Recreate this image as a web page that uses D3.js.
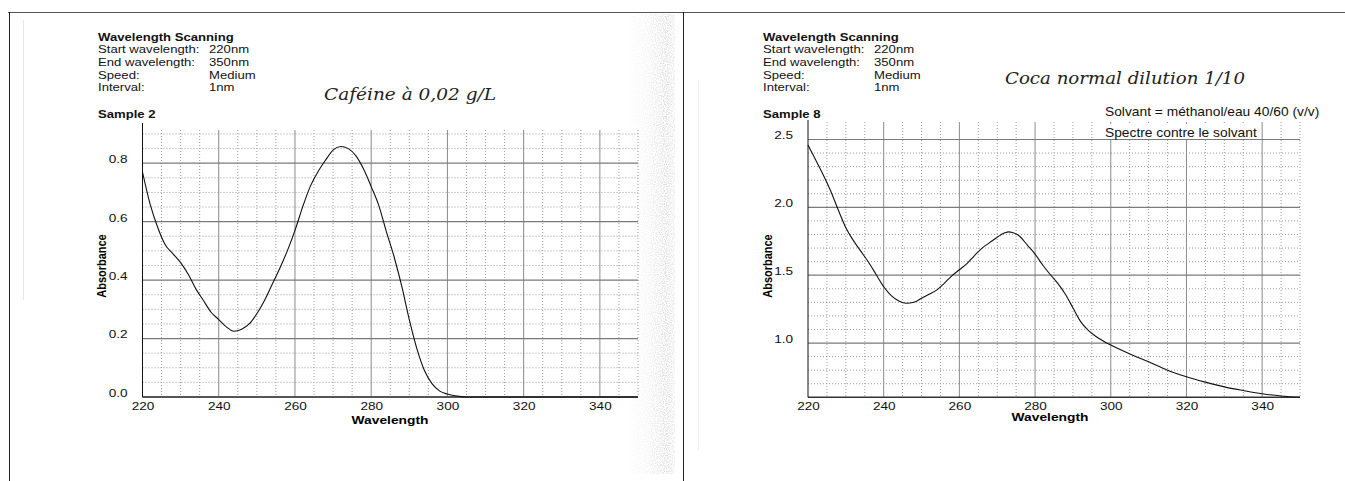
<!DOCTYPE html>
<html>
<head>
<meta charset="utf-8">
<script src="https://cdn.jsdelivr.net/npm/d3@7"></script>
<style>
  body { margin: 0; background: #fff; }
  svg { display: block; font-family: "Liberation Sans", Arial, sans-serif; }
</style>
</head>
<body>
<div id="chart"></div>
<script>
// caffeine 0,02 g/L (sample 2)
var caffeineWl  = [220,222,224,226,228,230,232,234,236,238,240,242,244,246,248,250,252,254,256,258,260,262,264,266,268,270,272,274,276,278,280,282,284,286,288,290,292,294,296,298,300,302,305,310,320,330,340,350];
var caffeineAbs = [0.77,0.66,0.58,0.52,0.49,0.46,0.42,0.37,0.33,0.29,0.265,0.24,0.225,0.232,0.25,0.285,0.33,0.385,0.44,0.50,0.57,0.65,0.72,0.77,0.81,0.845,0.857,0.85,0.825,0.78,0.72,0.655,0.565,0.48,0.38,0.265,0.165,0.09,0.045,0.02,0.01,0.004,0.0,0.0,0.0,0.0,0.0,0.0];

// coca normal, dilution 1/10 (sample 8)
var cocaWl  = [220,222,224,226,228,230,232,234,236,238,240,242,244,246,248,250,252,254,256,258,260,262,264,266,268,270,272,273,274,276,278,280,282,284,286,288,290,292,294,296,298,300,305,310,315,320,325,330,335,340,345,350];
var cocaAbs = [2.46,2.35,2.24,2.12,1.98,1.85,1.755,1.675,1.595,1.505,1.415,1.35,1.31,1.293,1.30,1.33,1.36,1.39,1.44,1.495,1.54,1.585,1.645,1.70,1.74,1.78,1.812,1.819,1.815,1.785,1.72,1.655,1.575,1.505,1.44,1.36,1.26,1.16,1.095,1.05,1.015,0.985,0.92,0.862,0.80,0.752,0.712,0.677,0.65,0.626,0.61,0.60];

var xTicks = [220,240,260,280,300,320,340];
var caffeineYTicks = [0.0,0.2,0.4,0.6,0.8];
var cocaYTicks = [1.0,1.5,2.0,2.5];

var headerLabels = ["Start wavelength:","End wavelength:","Speed:","Interval:"];
var headerValues = ["220nm","350nm","Medium","1nm"];

var width = 1345, height = 481;

var svg = d3.select("#chart").append("svg")
    .attr("width", width)
    .attr("height", height);

svg.append("rect").attr("width", width).attr("height", height).attr("fill", "#fff");

// the scan is a bit wider than tall: stretch text horizontally
function putText(g, x, y, str, size, sx, bold) {
  return g.append("text")
    .attr("transform", "translate(" + x + "," + y + ") scale(" + sx + ",1)")
    .text(str)
    .style("font-size", size + "px")
    .style("font-weight", bold ? "bold" : "normal")
    .style("fill", "#111");
}

// speckled scan noise on the right edge of the first sheet
var defs = svg.append("defs");
var filt = defs.append("filter").attr("id", "speckle").attr("x", 0).attr("y", 0).attr("width", 1).attr("height", 1);
filt.append("feTurbulence").attr("type", "fractalNoise").attr("baseFrequency", "0.9").attr("numOctaves", 1).attr("seed", 3);
filt.append("feColorMatrix").attr("type", "matrix")
  .attr("values", "0 0 0 0 0.45  0 0 0 0 0.45  0 0 0 0 0.45  0 0 0 -2.4 1.5");
var grad = defs.append("linearGradient").attr("id", "bandfade");
grad.append("stop").attr("offset", "0%").attr("stop-color", "#fff").attr("stop-opacity", 0);
grad.append("stop").attr("offset", "45%").attr("stop-color", "#fff").attr("stop-opacity", 0.35);
grad.append("stop").attr("offset", "85%").attr("stop-color", "#fff").attr("stop-opacity", 1);
grad.append("stop").attr("offset", "100%").attr("stop-color", "#fff").attr("stop-opacity", 0.5);
var mask = defs.append("mask").attr("id", "bandmask");
mask.append("rect").attr("x", 625).attr("y", 14).attr("width", 50).attr("height", 460).attr("fill", "url(#bandfade)");
svg.append("rect").attr("x", 625).attr("y", 14).attr("width", 50).attr("height", 460)
   .attr("filter", "url(#speckle)").attr("mask", "url(#bandmask)").attr("opacity", 0.55);

// page frame
svg.append("line").attr("x1", 8).attr("x2", width).attr("y1", 12.5).attr("y2", 12.5)
   .attr("stroke", "#555").attr("stroke-width", 1);
svg.append("line").attr("x1", 9.5).attr("x2", 9.5).attr("y1", 12).attr("y2", height)
   .attr("stroke", "#222").attr("stroke-width", 1);
svg.append("line").attr("x1", 683.5).attr("x2", 683.5).attr("y1", 12).attr("y2", height)
   .attr("stroke", "#222").attr("stroke-width", 1);
svg.append("line").attr("x1", 23.5).attr("x2", 23.5).attr("y1", 20).attr("y2", 300)
   .attr("stroke", "#e6e6e6").attr("stroke-width", 1);
svg.append("line").attr("x1", 698.5).attr("x2", 698.5).attr("y1", 80).attr("y2", 450)
   .attr("stroke", "#ececec").attr("stroke-width", 1);

function drawPanel(cfg) {
  var g = svg.append("g");
  var x = d3.scaleLinear().domain([220, 350]).range(cfg.xRange);
  var y = d3.scaleLinear().domain(cfg.yDomain).range(cfg.yRange);
  var top = cfg.plotTop;
  var y0 = y(cfg.yDomain[0]);

  // header
  var hx = cfg.headerX;
  putText(g, hx, 41, "Wavelength Scanning", 10.5, 1.25, true);
  headerLabels.forEach(function(t, i) {
    putText(g, hx, 53 + i * 12.8, t, 10.5, 1.25, false);
    putText(g, hx + 111, 53 + i * 12.8, headerValues[i], 10.5, 1.25, false);
  });
  putText(g, hx, 118, cfg.sample, 10.5, 1.25, true);

  g.append("text").attr("x", cfg.noteX).attr("y", cfg.noteY).text(cfg.note)
    .attr("textLength", cfg.noteLen).attr("lengthAdjust", "spacingAndGlyphs")
    .style("font-family", "'DejaVu Serif', serif").style("font-style", "italic")
    .style("font-size", "17px").style("fill", "#222");

  // minor grid
  d3.range(220, 351, 5).forEach(function(v) {
    if (v % 20 === 0) return;
    g.append("line").attr("x1", x(v)).attr("x2", x(v)).attr("y1", top).attr("y2", y0)
      .attr("stroke", "#9a9a9a").attr("stroke-dasharray", "1,2").attr("stroke-width", 1);
  });
  cfg.yMinor.forEach(function(v) {
    g.append("line").attr("x1", x(220)).attr("x2", x(350)).attr("y1", y(v)).attr("y2", y(v))
      .attr("stroke", "#9a9a9a").attr("stroke-dasharray", "1,2").attr("stroke-width", 1);
  });
  // major grid
  xTicks.slice(1).forEach(function(v) {
    g.append("line").attr("x1", x(v)).attr("x2", x(v)).attr("y1", top).attr("y2", y0)
      .attr("stroke", "#8a8a8a").attr("stroke-width", 1);
  });
  cfg.yTicks.forEach(function(v) {
    g.append("line").attr("x1", x(220)).attr("x2", x(350)).attr("y1", y(v)).attr("y2", y(v))
      .attr("stroke", "#7a7a7a").attr("stroke-width", 1.2);
  });

  if (cfg.extra) cfg.extra(g);

  // axes
  var xa = g.append("g").attr("transform", "translate(0," + y0 + ")")
    .call(d3.axisBottom(x).tickValues(xTicks).tickSize(0).tickPadding(5));
  xa.select(".domain").remove();
  xa.selectAll("text").style("font-size", "11.5px").style("fill", "#111")
    .attr("transform", "scale(1.18,1)");
  g.append("line").attr("x1", x(220)).attr("x2", x(350)).attr("y1", y0).attr("y2", y0)
    .attr("stroke", "#333").attr("stroke-width", 1.6);

  var ya = g.append("g").attr("transform", "translate(" + (x(220) - 15) + ",0)")
    .call(d3.axisLeft(y).tickValues(cfg.yTicks).tickFormat(d3.format(".1f")).tickSize(0).tickPadding(0));
  ya.select(".domain").remove();
  ya.selectAll("text").style("font-size", "11.5px").style("fill", "#111")
    .attr("dy", "-0.05em").attr("transform", "scale(1.18,1)");
  g.append("line").attr("x1", x(220)).attr("x2", x(220)).attr("y1", cfg.axisTop).attr("y2", y0)
    .attr("stroke", "#111").attr("stroke-width", 1);

  g.append("text").attr("transform", "translate(" + cfg.xLabelX + "," + cfg.xLabelY + ") scale(1.2,1)")
    .attr("text-anchor", "middle").text("Wavelength")
    .style("font-size", "11.5px").style("font-weight", "bold");
  g.append("text").attr("transform", "translate(" + cfg.yLabelX + "," + cfg.yLabelY + ") rotate(-90) scale(1,1.2)")
    .attr("text-anchor", "middle").text("Absorbance")
    .style("font-size", "11px").style("font-weight", "bold");

  // spectrum
  var line = d3.line()
    .x(function(d) { return x(d[0]); })
    .y(function(d) { return y(d[1]); })
    .curve(d3.curveMonotoneX);
  g.append("path").datum(d3.zip(cfg.wl, cfg.abs)).attr("d", line)
    .attr("fill", "none").attr("stroke", "#111").attr("stroke-width", 1.1);
}

drawPanel({
  headerX: 98, sample: "Sample 2",
  note: "Caféine à 0,02 g/L", noteX: 324, noteY: 100, noteLen: 172,
  xRange: [142.5, 638], yDomain: [0, 0.9], yRange: [397, 134],
  plotTop: 130, axisTop: 123,
  yTicks: caffeineYTicks,
  yMinor: d3.range(0.05, 0.91, 0.05).filter(function(v) { return Math.abs(v * 5 - Math.round(v * 5)) > 0.01; }),
  xLabelX: 390, xLabelY: 424, yLabelX: 106, yLabelY: 266,
  wl: caffeineWl, abs: caffeineAbs
});

drawPanel({
  headerX: 763, sample: "Sample 8",
  note: "Coca normal  dilution 1/10", noteX: 1005, noteY: 84, noteLen: 240,
  xRange: [808, 1300], yDomain: [0.6, 2.5], yRange: [397.3, 139.5],
  plotTop: 122, axisTop: 120,
  yTicks: cocaYTicks,
  yMinor: d3.range(0.7, 2.45, 0.1).filter(function(v) { return Math.abs(v * 2 - Math.round(v * 2)) > 0.01; }),
  xLabelX: 1050, xLabelY: 421, yLabelX: 772, yLabelY: 266,
  wl: cocaWl, abs: cocaAbs,
  extra: function(g) {
    g.append("rect").attr("x", 1100).attr("y", 103).attr("width", 225).attr("height", 16).attr("fill", "#fff");
    g.append("rect").attr("x", 1100).attr("y", 124).attr("width", 158).attr("height", 15).attr("fill", "#fff");
    putText(g, 1105, 116, "Solvant = méthanol/eau 40/60 (v/v)", 12, 1.15, false);
    putText(g, 1105, 137, "Spectre contre le solvant", 12, 1.15, false);
  }
});
</script>
</body>
</html>
